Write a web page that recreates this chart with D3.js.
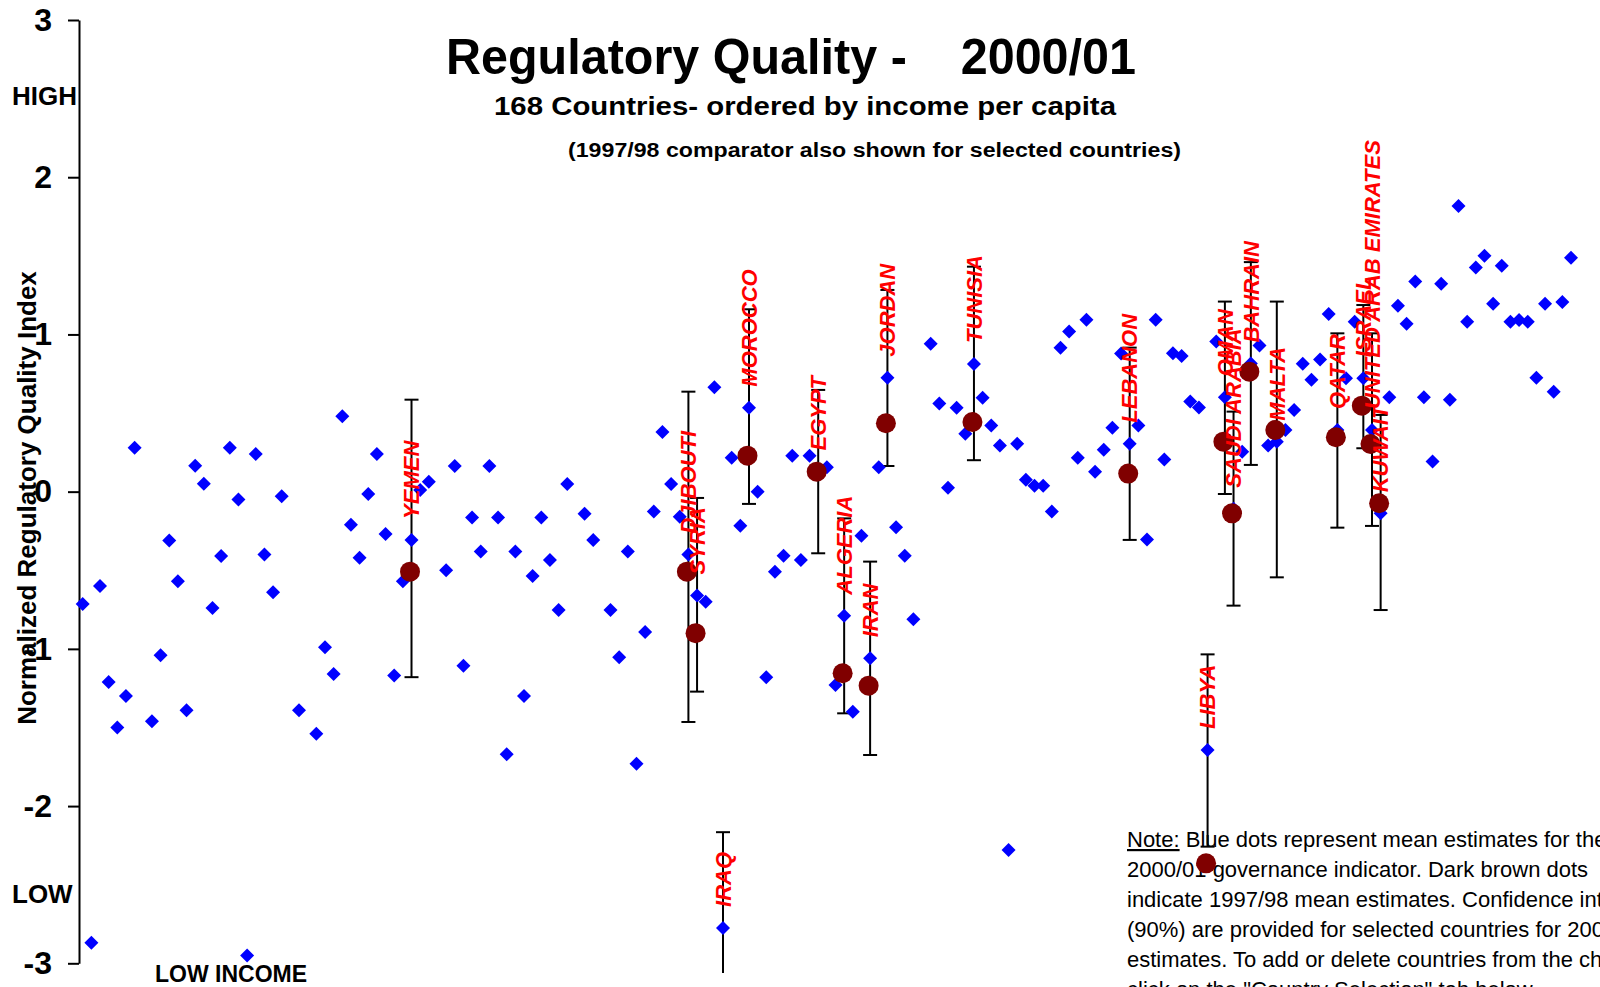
<!DOCTYPE html>
<html><head><meta charset="utf-8">
<script src="https://cdn.jsdelivr.net/npm/d3@7"></script>
<style>
html,body{margin:0;padding:0;background:#fff;overflow:hidden}
svg{display:block;font-family:"Liberation Sans",Arial,Helvetica,sans-serif}
</style></head><body>
<svg id="chart" width="1600" height="987"></svg>
<script>
// ---- data ----
const yTicks = [-3, -2, -1, 0, 1, 2, 3];
// 2000/01 estimates, one slot per country ordered by income per capita (null = no estimate)
const rq2000 = [
  -0.715, -2.87, -0.60, -1.21, -1.50, -1.30, 0.28, null, -1.46, -1.04,
  -0.31, -0.57, -1.39, 0.165, 0.05, -0.74, -0.41, 0.28, -0.05, -2.95,
  0.24, -0.40, -0.64, -0.03, null, -1.39, null, -1.54, -0.99, -1.16,
  0.48, -0.21, -0.42, -0.015, 0.24, -0.27, -1.17, -0.57, -0.307, 0.01,
  0.063, null, -0.50, 0.163, -1.107, -0.165, -0.38, 0.163, -0.165, -1.67,
  -0.38, -1.30, -0.536, -0.165, -0.435, -0.753, 0.049, null, -0.14, -0.307,
  null, -0.753, -1.054, -0.38, -1.73, -0.893, -0.127, 0.38, 0.049, -0.16,
  -0.40, -0.66, -0.70, 0.664, -2.775, 0.216, -0.217, 0.534, 0.0, -1.18,
  -0.51, -0.407, 0.229, -0.435, 0.229, 0.128, 0.155, -1.23, -0.789, -1.40,
  -0.28, -1.06, 0.155, 0.725, -0.227, -0.407, -0.812, null, 0.94, 0.56,
  0.025, 0.534, 0.369, 0.812, 0.598, 0.42, 0.293, -2.279, 0.305, 0.076,
  0.038, 0.038, -0.127, 0.916, 1.018, 0.216, 1.094, 0.127, 0.267, 0.407,
  0.878, 0.305, 0.42, -0.305, 1.094, 0.204, 0.88, 0.863, 0.573, 0.535,
  -1.643, 0.955, 0.60, -0.108, 0.254, 0.815, 0.929, 0.293, 0.318, 0.392,
  0.52, 0.814, 0.712, 0.84, 1.13, 0.392, 0.721, 1.081, 0.721, 0.392,
  -0.138, 0.60, 1.183, 1.068, 1.336, 0.60, 0.191, 1.323, 0.585, 1.817,
  1.081, 1.425, 1.501, 1.195, 1.437, 1.081, 1.092, 1.081, 0.725, 1.195,
  0.636, 1.206, 1.488
];
// selected countries
const countries = ["YEMEN", "DJIBOUTI", "SYRIA", "IRAQ", "MOROCCO", "EGYPT", "ALGERIA", "IRAN",
  "JORDAN", "TUNISIA", "LEBANON", "LIBYA", "OMAN", "SAUDI ARABIA", "BAHRAIN", "MALTA",
  "QATAR", "ISRAEL", "UNITED ARAB EMIRATES", "KUWAIT"];
const countrySlot = [38, 70, 71, 74, 77, 85, 88, 91, 93, 103, 121, 130, 132, 133, 135, 138, 145, 148, 149, 150];
const rq1997 = [-0.509, -0.509, -0.90, null, 0.229, 0.127, -1.155, -1.234, 0.435, 0.443,
  0.115, -2.364, 0.318, -0.138, 0.763, 0.392, 0.346, 0.547, 0.303, -0.074];
const ciLow = [-1.18, -1.465, -1.272, -3.385, -0.078, -0.392, -1.41, -1.675, 0.163, 0.20,
  -0.307, -2.258, -0.015, -0.725, 0.17, -0.545, -0.229, 0.276, -0.218, -0.753];
const ciHigh = [0.585, 0.636, -0.04, -2.166, 1.16, 0.647, -0.17, -0.445, 1.283, 1.431,
  0.916, -1.035, 1.209, 0.509, 1.46, 1.209, 1.007, 1.187, 1.007, 0.488];

const titleText = "Regulatory Quality -    2000/01";
const subtitleText = "168 Countries- ordered by income per capita";
const comparatorText = "(1997/98 comparator also shown for selected countries)";
const yTitle = "Normalized Regulatory Quality Index";
const noteLines = [
  "Blue dots represent mean estimates for the",
  "2000/01 governance indicator. Dark brown dots",
  "indicate 1997/98 mean estimates. Confidence intervals",
  "(90%) are provided for selected countries for 2000/01",
  "estimates. To add or delete countries from the chart,",
  "click on the \"Country Selection\" tab below."
];

// ---- chart ----
const svg = d3.select("#chart");
svg.append("rect").attr("width", 1600).attr("height", 987).attr("fill", "#fff");

const y = d3.scaleLinear().domain([-3, 3]).range([963.3, 20]);
const x = d3.scaleLinear().domain([0, rq2000.length - 1]).range([82.7, 1571]);

svg.append("defs").append("clipPath").attr("id", "plotclip")
  .append("rect").attr("x", 0).attr("y", 0).attr("width", 1600).attr("height", 973);

// titles
svg.append("text").attr("x", 446).attr("y", 74)
  .attr("xml:space", "preserve").style("white-space", "pre")
  .attr("textLength", 690).attr("lengthAdjust", "spacingAndGlyphs")
  .attr("font-size", 50).attr("font-weight", "bold").text(titleText);
svg.append("text").attr("x", 494).attr("y", 115)
  .attr("textLength", 622).attr("lengthAdjust", "spacingAndGlyphs")
  .attr("font-size", 26).attr("font-weight", "bold").text(subtitleText);
svg.append("text").attr("x", 568).attr("y", 157)
  .attr("textLength", 613).attr("lengthAdjust", "spacingAndGlyphs")
  .attr("font-size", 20).attr("font-weight", "bold").text(comparatorText);

// y axis
const axis = svg.append("g").attr("transform", "translate(79,0)")
  .call(d3.axisLeft(y).tickValues(yTicks).tickFormat(d => String(d))
    .tickSize(11).tickSizeOuter(0).tickPadding(16));
axis.select(".domain").attr("stroke", "#000").attr("stroke-width", 2);
axis.selectAll(".tick line").attr("stroke", "#000").attr("stroke-width", 2);
axis.selectAll(".tick text").attr("font-size", 32).attr("font-weight", "bold")
  .attr("font-family", "'Liberation Sans',Arial,sans-serif").attr("fill", "#000");

svg.append("text").attr("transform", "translate(27,498) rotate(-90)")
  .attr("text-anchor", "middle").attr("dy", "0.35em")
  .attr("font-size", 26).attr("font-weight", "bold").text(yTitle);
svg.append("text").attr("x", 12).attr("y", 105).attr("font-size", 26).attr("font-weight", "bold").text("HIGH");
svg.append("text").attr("x", 12).attr("y", 903).attr("font-size", 26).attr("font-weight", "bold").text("LOW");
svg.append("text").attr("x", 155).attr("y", 982).attr("font-size", 23).attr("font-weight", "bold").text("LOW INCOME");

// note (runs past the right edge, as in the original sheet)
const note = svg.append("g").attr("font-size", 22);
noteLines.forEach((line, i) => {
  const t = note.append("text").attr("x", 1127).attr("y", 847 + i * 30);
  if (i === 0) {
    t.append("tspan").attr("text-decoration", "underline").text("Note:");
    t.append("tspan").text(" " + line);
  } else {
    t.text(line);
  }
});

// selected-country records
const sel = countries.map((c, i) => ({
  name: c, slot: countrySlot[i], v2000: rq2000[countrySlot[i]],
  v1997: rq1997[i], lo: ciLow[i], hi: ciHigh[i]
}));

const plot = svg.append("g").attr("clip-path", "url(#plotclip)");

// error bars
const eb = plot.append("g").attr("stroke", "#000").attr("stroke-width", 2);
sel.forEach(d => {
  const cx = x(d.slot);
  eb.append("line").attr("x1", cx).attr("x2", cx).attr("y1", y(d.lo)).attr("y2", y(d.hi));
  eb.append("line").attr("x1", cx - 7).attr("x2", cx + 7).attr("y1", y(d.lo)).attr("y2", y(d.lo));
  eb.append("line").attr("x1", cx - 7).attr("x2", cx + 7).attr("y1", y(d.hi)).attr("y2", y(d.hi));
});

// blue diamonds
const diamond = "M0,-7L7,0L0,7L-7,0Z";
const pts = rq2000.map((v, i) => ({ i, v })).filter(d => d.v !== null);
plot.append("g").selectAll("path").data(pts).join("path")
  .attr("d", diamond)
  .attr("transform", d => `translate(${x(d.i)},${y(d.v)})`)
  .attr("fill", "#0000FF");

// brown dots (1997/98)
plot.append("g").selectAll("circle").data(sel.filter(d => d.v1997 !== null)).join("circle")
  .attr("cx", d => x(d.slot) - 1.5).attr("cy", d => y(d.v1997)).attr("r", 10)
  .attr("fill", "#800000");

// labels
svg.append("g").selectAll("text").data(sel).join("text")
  .attr("transform", d => `translate(${x(d.slot)},${y(d.v2000) - 21}) rotate(-90)`)
  .attr("dy", "0.35em")
  .attr("font-size", 22).attr("font-weight", "bold").attr("font-style", "italic")
  .attr("fill", "#FF0000")
  .text(d => d.name);
</script>
</body></html>
